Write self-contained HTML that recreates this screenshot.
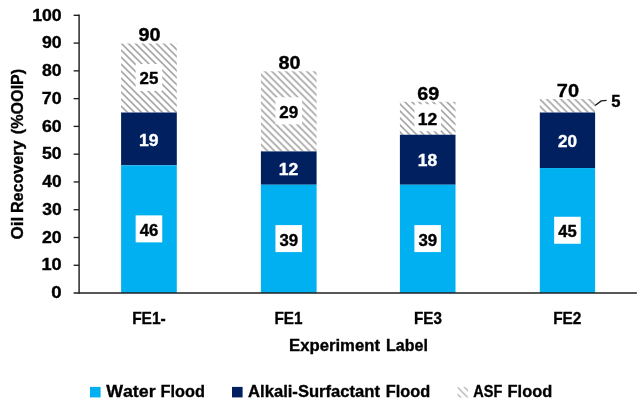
<!DOCTYPE html>
<html lang="en"><head><meta charset="utf-8"><title>Oil Recovery by Experiment</title>
<style>
html,body{margin:0;padding:0;background:#fff;}
body{width:644px;height:408px;overflow:hidden;}
svg{display:block;}
text{font-family:'Liberation Sans', Arial, Helvetica, sans-serif;font-weight:bold;font-kerning:none;fill:#000;stroke:#000;stroke-width:0.35px;}
text.w{fill:#fff;stroke:#fff;}
</style></head><body>
<svg width="644" height="408" viewBox="0 0 644 408">
<rect x="0" y="0" width="644" height="408" fill="#ffffff"/>
<defs>
<pattern id="h0" patternUnits="userSpaceOnUse" x="1.00" y="0" width="7" height="7"><rect width="7" height="7" fill="#fff"/><path d="M-7,-7 L14,14 M0,-7 L21,14 M-7,0 L14,21" stroke="#a8a8a8" stroke-width="1.6" fill="none"/></pattern>
<pattern id="h1" patternUnits="userSpaceOnUse" x="4.50" y="0" width="7" height="7"><rect width="7" height="7" fill="#fff"/><path d="M-7,-7 L14,14 M0,-7 L21,14 M-7,0 L14,21" stroke="#a8a8a8" stroke-width="1.6" fill="none"/></pattern>
<pattern id="h2" patternUnits="userSpaceOnUse" x="2.00" y="0" width="7" height="7"><rect width="7" height="7" fill="#fff"/><path d="M-7,-7 L14,14 M0,-7 L21,14 M-7,0 L14,21" stroke="#a8a8a8" stroke-width="1.6" fill="none"/></pattern>
<pattern id="h3" patternUnits="userSpaceOnUse" x="6.70" y="0" width="7" height="7"><rect width="7" height="7" fill="#fff"/><path d="M-7,-7 L14,14 M0,-7 L21,14 M-7,0 L14,21" stroke="#a8a8a8" stroke-width="1.6" fill="none"/></pattern>
<pattern id="hl" patternUnits="userSpaceOnUse" x="0.30" y="0" width="7" height="7"><rect width="7" height="7" fill="#fff"/><path d="M-7,-7 L14,14 M0,-7 L21,14 M-7,0 L14,21" stroke="#b0b0b0" stroke-width="1.25" fill="none"/></pattern>
</defs>
<rect x="121.10" y="43.48" width="55.70" height="69.04" fill="url(#h0)"/>
<rect x="121.10" y="112.51" width="55.70" height="52.77" fill="#002060"/>
<rect x="121.10" y="165.29" width="55.70" height="127.76" fill="#00b0f0"/>
<rect x="135.65" y="215.37" width="26.6" height="27.0" fill="#fff"/>
<text x="139.82" y="235.87" font-size="15.9" textLength="18.61" lengthAdjust="spacingAndGlyphs">46</text>
<text class="w" x="138.97" y="145.60" font-size="15.9" textLength="19.51" lengthAdjust="spacingAndGlyphs">19</text>
<rect x="135.65" y="63.99" width="26.6" height="27.0" fill="#fff"/>
<text x="139.49" y="84.49" font-size="15.9" textLength="18.81" lengthAdjust="spacingAndGlyphs">25</text>
<text x="138.54" y="41.48" font-size="18.0" textLength="22.05" lengthAdjust="spacingAndGlyphs">90</text>
<rect x="260.90" y="71.25" width="55.70" height="80.15" fill="url(#h1)"/>
<rect x="260.90" y="151.40" width="55.70" height="33.33" fill="#002060"/>
<rect x="260.90" y="184.73" width="55.70" height="108.32" fill="#00b0f0"/>
<rect x="275.45" y="225.09" width="26.6" height="27.0" fill="#fff"/>
<text x="279.49" y="245.59" font-size="15.9" textLength="18.76" lengthAdjust="spacingAndGlyphs">39</text>
<text class="w" x="278.77" y="174.76" font-size="15.9" textLength="19.56" lengthAdjust="spacingAndGlyphs">12</text>
<rect x="275.45" y="97.32" width="26.6" height="27.0" fill="#fff"/>
<text x="279.28" y="117.82" font-size="15.9" textLength="18.97" lengthAdjust="spacingAndGlyphs">29</text>
<text x="278.40" y="69.25" font-size="18.0" textLength="21.99" lengthAdjust="spacingAndGlyphs">80</text>
<rect x="399.90" y="101.80" width="55.60" height="32.93" fill="url(#h2)"/>
<rect x="399.90" y="134.73" width="55.60" height="50.00" fill="#002060"/>
<rect x="399.90" y="184.73" width="55.60" height="108.32" fill="#00b0f0"/>
<rect x="414.40" y="225.09" width="26.6" height="27.0" fill="#fff"/>
<text x="418.44" y="245.59" font-size="15.9" textLength="18.76" lengthAdjust="spacingAndGlyphs">39</text>
<text class="w" x="417.73" y="166.43" font-size="15.9" textLength="19.38" lengthAdjust="spacingAndGlyphs">18</text>
<rect x="414.40" y="104.27" width="26.6" height="27.0" fill="#fff"/>
<text x="417.72" y="124.77" font-size="15.9" textLength="19.56" lengthAdjust="spacingAndGlyphs">12</text>
<text x="417.25" y="99.80" font-size="18.0" textLength="22.01" lengthAdjust="spacingAndGlyphs">69</text>
<rect x="539.80" y="99.03" width="55.30" height="13.49" fill="url(#h3)"/>
<rect x="539.80" y="112.51" width="55.30" height="55.55" fill="#002060"/>
<rect x="539.80" y="168.06" width="55.30" height="124.99" fill="#00b0f0"/>
<rect x="554.15" y="216.76" width="26.6" height="27.0" fill="#fff"/>
<text x="558.32" y="237.26" font-size="15.9" textLength="18.46" lengthAdjust="spacingAndGlyphs">45</text>
<text class="w" x="557.98" y="146.99" font-size="15.9" textLength="19.05" lengthAdjust="spacingAndGlyphs">20</text>
<text x="556.87" y="97.03" font-size="18.0" textLength="22.23" lengthAdjust="spacingAndGlyphs">70</text>
<path d="M595.1,105.5 L601.3,100.9 L606.6,100.3" stroke="#1a1a1a" stroke-width="1.35" stroke-linejoin="round" fill="none"/>
<text x="611.16" y="107.20" font-size="15.9" textLength="9.22" lengthAdjust="spacingAndGlyphs">5</text>
<path d="M79.1,14.5 V293.85" stroke="#202020" stroke-width="1.45" fill="none"/>
<path d="M73.6,293.05 H636.9" stroke="#202020" stroke-width="1.45" fill="none"/>
<path d="M73.6,265.28 H79.1" stroke="#202020" stroke-width="1.35" fill="none"/>
<path d="M73.6,237.50 H79.1" stroke="#202020" stroke-width="1.35" fill="none"/>
<path d="M73.6,209.73 H79.1" stroke="#202020" stroke-width="1.35" fill="none"/>
<path d="M73.6,181.95 H79.1" stroke="#202020" stroke-width="1.35" fill="none"/>
<path d="M73.6,154.18 H79.1" stroke="#202020" stroke-width="1.35" fill="none"/>
<path d="M73.6,126.40 H79.1" stroke="#202020" stroke-width="1.35" fill="none"/>
<path d="M73.6,98.63 H79.1" stroke="#202020" stroke-width="1.35" fill="none"/>
<path d="M73.6,70.85 H79.1" stroke="#202020" stroke-width="1.35" fill="none"/>
<path d="M73.6,43.08 H79.1" stroke="#202020" stroke-width="1.35" fill="none"/>
<path d="M73.6,15.30 H79.1" stroke="#202020" stroke-width="1.35" fill="none"/>
<text x="51.34" y="298.25" font-size="15.8" textLength="10.35" lengthAdjust="spacingAndGlyphs">0</text>
<text x="41.43" y="270.48" font-size="15.8" textLength="20.24" lengthAdjust="spacingAndGlyphs">10</text>
<text x="41.96" y="242.70" font-size="15.8" textLength="19.69" lengthAdjust="spacingAndGlyphs">20</text>
<text x="42.17" y="214.93" font-size="15.8" textLength="19.47" lengthAdjust="spacingAndGlyphs">30</text>
<text x="42.31" y="187.15" font-size="15.8" textLength="19.33" lengthAdjust="spacingAndGlyphs">40</text>
<text x="42.03" y="159.38" font-size="15.8" textLength="19.62" lengthAdjust="spacingAndGlyphs">50</text>
<text x="41.93" y="131.60" font-size="15.8" textLength="19.73" lengthAdjust="spacingAndGlyphs">60</text>
<text x="41.81" y="103.83" font-size="15.8" textLength="19.85" lengthAdjust="spacingAndGlyphs">70</text>
<text x="42.01" y="76.05" font-size="15.8" textLength="19.63" lengthAdjust="spacingAndGlyphs">80</text>
<text x="41.96" y="48.28" font-size="15.8" textLength="19.69" lengthAdjust="spacingAndGlyphs">90</text>
<text x="32.16" y="20.50" font-size="15.8" textLength="29.49" lengthAdjust="spacingAndGlyphs">100</text>
<text x="132.14" y="323.80" font-size="16.6" textLength="33.61" lengthAdjust="spacingAndGlyphs">FE1-</text>
<text x="274.45" y="323.80" font-size="16.6" textLength="28.00" lengthAdjust="spacingAndGlyphs">FE1</text>
<text x="414.06" y="323.80" font-size="16.6" textLength="27.92" lengthAdjust="spacingAndGlyphs">FE3</text>
<text x="553.14" y="323.80" font-size="16.6" textLength="28.30" lengthAdjust="spacingAndGlyphs">FE2</text>
<text y="350.90" font-size="16.5"><tspan x="289.06" textLength="90.97" lengthAdjust="spacingAndGlyphs">Experiment</tspan> <tspan x="386.11" textLength="41.75" lengthAdjust="spacingAndGlyphs">Label</tspan></text>
<text transform="translate(23.3,238.9) rotate(-90)" y="0.00" font-size="16.4"><tspan x="-0.52" textLength="22.76" lengthAdjust="spacingAndGlyphs">Oil</tspan> <tspan x="25.80" textLength="72.62" lengthAdjust="spacingAndGlyphs">Recovery</tspan> <tspan x="104.77" textLength="65.36" lengthAdjust="spacingAndGlyphs">(%OOIP)</tspan></text>
<rect x="90" y="386.9" width="10.6" height="10.5" fill="#00b0f0"/>
<text y="397.30" font-size="17.4"><tspan x="106.16" textLength="49.44" lengthAdjust="spacingAndGlyphs">Water</tspan> <tspan x="160.58" textLength="44.42" lengthAdjust="spacingAndGlyphs">Flood</tspan></text>
<rect x="232" y="386.9" width="10.6" height="10.5" fill="#002060"/>
<text y="397.30" font-size="17.4"><tspan x="248.06" textLength="131.97" lengthAdjust="spacingAndGlyphs">Alkali-Surfactant</tspan> <tspan x="385.68" textLength="44.52" lengthAdjust="spacingAndGlyphs">Flood</tspan></text>
<rect x="457.5" y="386.9" width="10.6" height="10.6" fill="url(#hl)"/>
<text y="397.30" font-size="17.4"><tspan x="473.31" textLength="29.04" lengthAdjust="spacingAndGlyphs">ASF</tspan> <tspan x="507.58" textLength="44.63" lengthAdjust="spacingAndGlyphs">Flood</tspan></text>
</svg></body></html>
